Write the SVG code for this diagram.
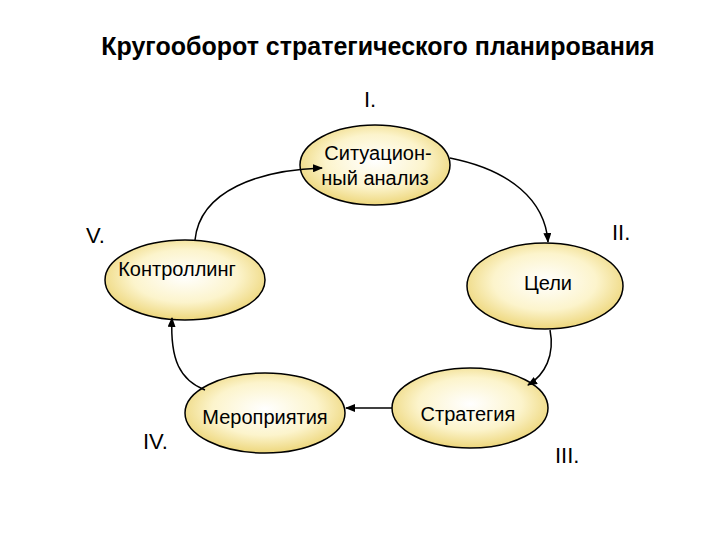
<svg xmlns="http://www.w3.org/2000/svg" width="720" height="540" viewBox="0 0 720 540">
<style>
text{font-family:"Liberation Sans",Arial,sans-serif;fill:#000}
.n{font-size:20px;text-anchor:middle}
.r{font-size:22px}
ellipse{fill:url(#g);stroke:#000;stroke-width:1.5}
.c{fill:none;stroke:#000;stroke-width:1.5;marker-end:url(#a)}
</style>
<defs>
<radialGradient id="g" cx="50%" cy="45%" r="60%"><stop offset="0" stop-color="#ffffff"/><stop offset="0.55" stop-color="#fcf4cc"/><stop offset="1" stop-color="#ead06a"/></radialGradient>
<marker id="a" markerWidth="10" markerHeight="8" refX="9" refY="4" orient="auto" markerUnits="userSpaceOnUse"><path d="M0,0L10,4L0,8z" fill="#000"/></marker>
</defs>
<rect width="720" height="540" fill="#fff"/>
<text x="378" y="55" font-size="25" font-weight="bold" text-anchor="middle">Кругооборот стратегического планирования</text>
<text class="r" x="364" y="107">I.</text>
<text class="r" x="612" y="240">II.</text>
<text class="r" x="86" y="243">V.</text>
<text class="r" x="143" y="449">IV.</text>
<text class="r" x="555" y="463">III.</text>
<g id="n1"><ellipse cx="375" cy="165" rx="75" ry="40"/><text class="n" x="378" y="160">Ситуацион-</text><text class="n" x="375" y="185">ный анализ</text></g>
<g id="n2"><ellipse cx="545" cy="286" rx="78" ry="43"/><text class="n" x="548" y="290">Цели</text></g>
<g id="n3"><ellipse cx="470" cy="408" rx="78" ry="40"/><text class="n" x="468" y="421">Стратегия</text></g>
<g id="n4"><ellipse cx="265" cy="413" rx="80" ry="40"/><text class="n" x="265" y="424">Мероприятия</text></g>
<g id="n5"><ellipse cx="185" cy="280" rx="80" ry="40"/><text class="n" x="177" y="276">Контроллинг</text></g>
<g id="connectors">
<path class="c" d="M195,240 C200,190 260,170 322,168"/>
<path class="c" d="M450,158 C510,170 545,200 548,242"/>
<path class="c" d="M550,330 C555,355 545,375 528,385"/>
<path class="c" d="M392,408 L346,408"/>
<path class="c" d="M205,390 C180,380 170,360 172,318"/>
</g>
</svg>
